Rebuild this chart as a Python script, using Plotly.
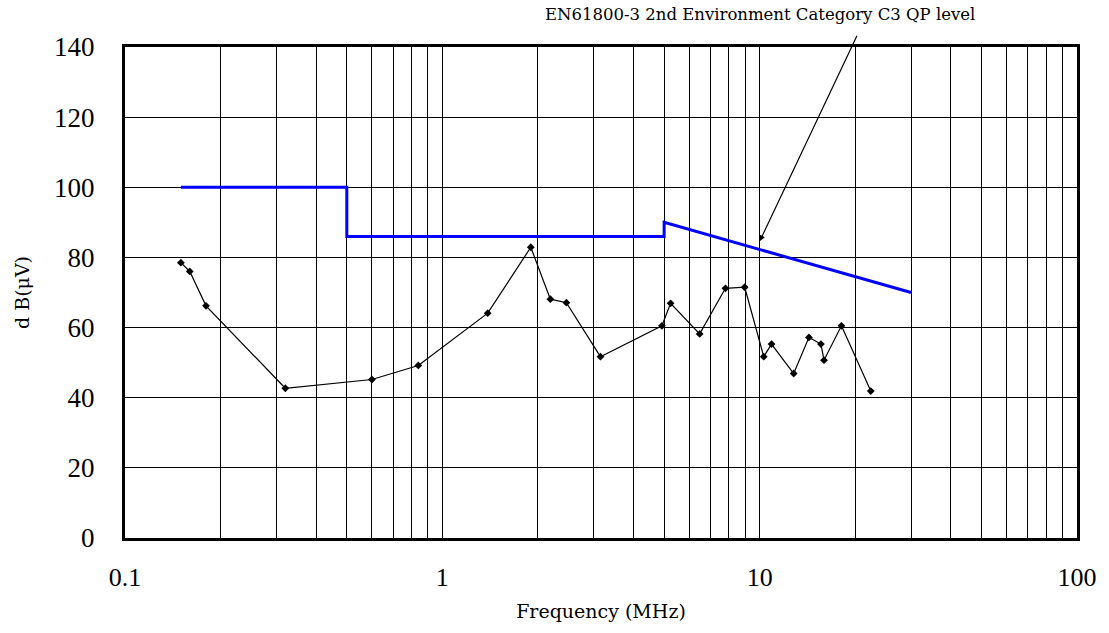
import plotly.graph_objects as go

# Measured spectrum
freq_mhz = [0.15, 0.16, 0.18, 0.32, 0.60, 0.84, 1.39, 1.90, 2.19, 2.46, 3.15, 4.92,
            5.24, 6.47, 7.80, 8.97, 10.3, 10.9, 12.8, 14.3, 15.6, 15.95, 18.1, 22.4]
level_dbuv = [78.5, 76.0, 66.2, 42.7, 45.2, 49.2, 64.1, 82.9, 68.1, 67.1, 51.7, 60.5,
              66.9, 58.2, 71.2, 71.5, 51.7, 55.3, 46.9, 57.2, 55.3, 50.7, 60.5, 41.9]

# EN61800-3 C3 QP limit
limit_freq = [0.15, 0.5, 0.5, 5, 5, 30]
limit_level = [100, 100, 86, 86, 90, 70]

x_tickvals = [m * 10 ** e for e in (-1, 0, 1) for m in range(1, 10)] + [100]
x_ticktext = [("0.1" if v == 0.1 else "1" if v == 1 else "10" if v == 10 else "100" if v == 100 else "")
              for v in x_tickvals]
y_tickvals = [0, 20, 40, 60, 80, 100, 120, 140]

annot_text = "EN61800-3 2nd Environment Category C3 QP level"
serif = "Liberation Serif, DejaVu Serif, serif"
wide_serif = "DejaVu Serif, Liberation Serif, serif"

fig = go.Figure()
fig.add_trace(go.Scatter(x=limit_freq, y=limit_level, mode="lines",
                         line=dict(color="#0000FF", width=3), showlegend=False))
fig.add_trace(go.Scatter(x=freq_mhz, y=level_dbuv, mode="lines+markers",
                         line=dict(color="black", width=1.2),
                         marker=dict(symbol="diamond", size=6, color="black"),
                         showlegend=False))

fig.update_layout(
    width=1109, height=633,
    margin=dict(l=125, r=32, t=47, b=95),
    paper_bgcolor="white", plot_bgcolor="white",
    font=dict(family=serif, color="black"),
    xaxis=dict(type="log", range=[-1, 2], tickvals=x_tickvals, ticktext=x_ticktext,
               showgrid=True, gridcolor="black", gridwidth=1,
               showline=True, linecolor="black", linewidth=3, mirror=True,
               ticks="", tickfont=dict(size=26, family=serif), ticklabelstandoff=14,
               title=dict(text="Frequency (MHz)", font=dict(size=19, family=wide_serif), standoff=14),
               zeroline=False),
    yaxis=dict(range=[0, 140], tickvals=y_tickvals,
               showgrid=True, gridcolor="black", gridwidth=1,
               showline=True, linecolor="black", linewidth=3, mirror=True,
               ticks="", tickfont=dict(size=27, family=serif), ticklabelstandoff=22,
               title=dict(text="d B(μV)", font=dict(size=19, family=wide_serif), standoff=20),
               zeroline=False),
    annotations=[
        dict(text=annot_text, xref="paper", yref="paper", x=(760 - 125) / 952, y=1,
             yshift=33, yanchor="middle", showarrow=False,
             font=dict(size=16.5, family=wide_serif), xanchor="center"),
        dict(text="", x=1, y=84.6, xref="x", yref="y", showarrow=True,
             ax=98, ay=-207, arrowhead=2, arrowsize=1, arrowwidth=1.2, arrowcolor="black"),
    ],
)

fig.write_html("out.html", config={"displayModeBar": False},
               post_script="document.body.style.margin='0';")
